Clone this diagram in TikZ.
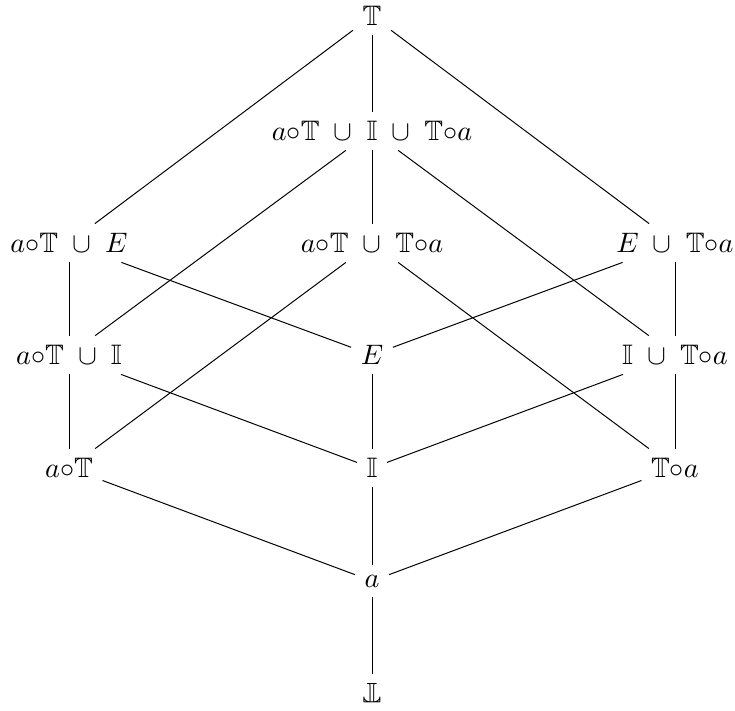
\documentclass[tikz,border=0pt]{standalone}
\usepackage{amsmath,amssymb}
\usepackage{graphicx}
\newcommand{\bbT}{\mathbb{T}}
\newcommand{\bbI}{\mathbb{I}}
\newcommand{\cmp}{{\circ}}
\newcommand{\un}{\;\cup\;}
\newcommand{\bbBot}{\mathord{\rotatebox[origin=c]{180}{$\mathbb{T}$}}}
\newcommand{\lt}[1]{\scalebox{1.28}{$#1$}}
\begin{document}
\begin{tikzpicture}[x=0.4545pt,y=-0.4545pt,
  lat/.style={inner sep=4.2pt},
  edge/.style={draw,line width=0.45pt}]
\useasboundingbox (0,0) rectangle (735,710);
\node[lat] (top) at (372,16) {\lt{\bbT}};
\node[lat] (m1) at (372,131) {\lt{a\cmp\bbT \un \bbI \un \bbT\cmp a}};
\node[lat] (l2) at (69,243) {\lt{a\cmp\bbT \un E}};
\node[lat] (c2) at (372,243) {\lt{a\cmp\bbT \un \bbT\cmp a}};
\node[lat] (r2) at (675,243) {\lt{E \un \bbT\cmp a}};
\node[lat] (l3) at (69,355) {\lt{a\cmp\bbT \un \bbI}};
\node[lat] (c3) at (372,355) {\lt{E}};
\node[lat] (r3) at (675,355) {\lt{\bbI \un \bbT\cmp a}};
\node[lat] (l4) at (69,468) {\lt{a\cmp\bbT}};
\node[lat] (c4) at (372,468) {\lt{\bbI}};
\node[lat] (r4) at (675,468) {\lt{\bbT\cmp a}};
\node[lat] (a) at (372,581) {\lt{a}};
\node[lat] (bot) at (372,693) {\lt{\bbBot}};
\draw[edge] (top) -- (l2);
\draw[edge] (top) -- (m1);
\draw[edge] (top) -- (r2);
\draw[edge] (m1) -- (l3);
\draw[edge] (m1) -- (c2);
\draw[edge] (m1) -- (r3);
\draw[edge] (l2) -- (l3);
\draw[edge] (l2) -- (c3);
\draw[edge] (c2) -- (l4);
\draw[edge] (c2) -- (r4);
\draw[edge] (r2) -- (c3);
\draw[edge] (r2) -- (r3);
\draw[edge] (l3) -- (l4);
\draw[edge] (l3) -- (c4);
\draw[edge] (c3) -- (c4);
\draw[edge] (r3) -- (c4);
\draw[edge] (r3) -- (r4);
\draw[edge] (l4) -- (a);
\draw[edge] (c4) -- (a);
\draw[edge] (r4) -- (a);
\draw[edge] (a) -- (bot);
\end{tikzpicture}
\end{document}
